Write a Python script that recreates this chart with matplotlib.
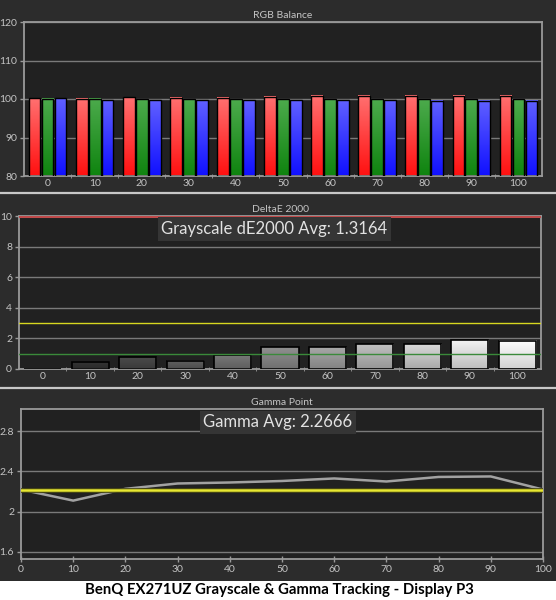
import numpy as np
import matplotlib
matplotlib.use("Agg")
from matplotlib import pyplot as plt
from matplotlib.lines import Line2D
from matplotlib.patches import Rectangle

plt.rcParams['font.family'] = ['Lato', 'DejaVu Sans']

# data
levels = [0, 10, 20, 30, 40, 50, 60, 70, 80, 90, 100]
red   = [100.2, 100.1, 100.4, 100.35, 100.3, 100.6, 100.8, 100.8, 100.8, 100.8, 100.8]
green = [100.1, 100.1, 99.9, 99.9, 99.9, 99.9, 99.9, 99.9, 99.9, 99.9, 99.9]
blue  = [100.2, 99.7, 99.7, 99.7, 99.7, 99.7, 99.7, 99.7, 99.5, 99.5, 99.5]
de2000 = [0.0, 0.46, 0.76, 0.54, 0.89, 1.41, 1.41, 1.61, 1.61, 1.89, 1.85]
gamma  = [2.22, 2.11, 2.227, 2.28, 2.29, 2.305, 2.33, 2.30, 2.345, 2.35, 2.22]
gamma_target = 2.22
de_avg = "1.3164"
gamma_avg = "2.2666"
caption = "BenQ EX271UZ Grayscale & Gamma Tracking - Display P3"

FIG_BG = "#2c2c2c"
AX_BG = "#212121"
GRID = "#7a7a7a"
SPINE = "#9a9a9a"
TXT = "#c4c4c4"


def style_ax(ax):
    ax.set_facecolor(AX_BG)
    for s in ax.spines.values():
        s.set_color(SPINE)
        s.set_linewidth(1.3)
    ax.tick_params(colors=SPINE, labelcolor=TXT, labelsize=7.5, length=3,
                   width=1, direction='out', pad=2)


def grad_bars(ax, bars, tops, bots):
    n = 64
    g = np.linspace(0, 1, n)[:, None, None]
    for b, t, bo in zip(bars, tops, bots):
        t = np.array(matplotlib.colors.to_rgb(t))
        bo = np.array(matplotlib.colors.to_rgb(bo))
        img = t * (1 - g) + bo * g
        x0, y0 = b.get_x(), b.get_y()
        ax.imshow(img, extent=[x0, x0 + b.get_width(), y0, y0 + b.get_height()],
                  aspect='auto', origin='upper', zorder=2.5, interpolation='bilinear')


fig = plt.figure(figsize=(5.56, 6.0), dpi=100, facecolor=FIG_BG)
W, H = 556.0, 600.0


def box(l, r, t, b):
    return [l / W, 1 - b / H, (r - l) / W, (b - t) / H]


x = np.arange(len(levels))

# ---- RGB balance
ax1 = fig.add_axes(box(24, 542, 22, 176))
style_ax(ax1)
ax1.set_ylim(80, 120)
ax1.set_xlim(-0.5, len(levels) - 0.5)
ax1.set_yticks([80, 90, 100, 110, 120])
ax1.grid(axis='y', color=GRID, lw=1, zorder=0)
bw = 0.25
off = 0.275
specs = [(red, -off, "#ff7070", "#ff1010"),
         (green, 0, "#4caa4c", "#0f840f"),
         (blue, off, "#6060ff", "#1010ff")]
for vals, dx, ctop, cbot in specs:
    bars = ax1.bar(x + dx, np.array(vals) - 80, bottom=80, width=bw,
                   facecolor='none', edgecolor='black', lw=1, zorder=3)
    grad_bars(ax1, bars, [ctop] * len(vals), [cbot] * len(vals))
ax1.set_xlim(-0.5, len(levels) - 0.5)
ax1.set_ylim(80, 120)
ax1.set_xticks(x)
ax1.set_xticklabels([str(v) for v in levels])
ax1.set_xticks(x[:-1] + 0.5, minor=True)
ax1.tick_params(axis='x', which='major', length=0)
ax1.tick_params(axis='x', which='minor', colors=SPINE, length=3, direction='inout')
ax1.set_title("RGB Balance", color=TXT, fontsize=7.5, pad=3)

# ---- DeltaE 2000
ax2 = fig.add_axes(box(19, 541, 216, 369))
style_ax(ax2)
ax2.set_ylim(0, 10)
ax2.set_yticks([0, 2, 4, 6, 8, 10])
ax2.grid(axis='y', color=GRID, lw=1, zorder=0)
bars = ax2.bar(x, de2000, width=0.78, facecolor='none', edgecolor='black',
               lw=1.2, zorder=3)
tops, bots = [], []
for lv in levels:
    v = 0.13 + 0.87 * (lv / 100.0) ** 1.1
    tops.append((min(v * 1.05, 1),) * 3)
    bots.append((v * 0.82,) * 3)
grad_bars(ax2, bars, tops, bots)
ax2.axhline(10, color="#c04a4a", lw=2.2, zorder=4)
ax2.axhline(3, color="#d8d820", lw=1, zorder=4)
ax2.axhline(1, color="#3a8a3a", lw=1, zorder=4)
ax2.set_xlim(-0.5, len(levels) - 0.5)
ax2.set_ylim(0, 10)
ax2.set_xticks(x)
ax2.set_xticklabels([str(v) for v in levels])
ax2.set_xticks(x[:-1] + 0.5, minor=True)
ax2.tick_params(axis='x', which='major', length=0)
ax2.tick_params(axis='x', which='minor', colors=SPINE, length=3, direction='inout')
ax2.set_title("DeltaE 2000", color=TXT, fontsize=7.5, pad=3)
ax2.text(0.489, 0.915, "Grayscale dE2000 Avg: " + de_avg, transform=ax2.transAxes,
         ha='center', va='center', fontsize=12, color="#e2e2e2", zorder=6,
         bbox=dict(boxstyle='square,pad=0.22', fc="#353535", ec='none'))

# ---- Gamma point
ax3 = fig.add_axes(box(21, 543, 409, 559))
style_ax(ax3)
ax3.set_xlim(0, 100)
ax3.set_ylim(1.53, 3.02)
ax3.set_yticks([1.6, 2.0, 2.4, 2.8])
ax3.set_yticklabels(["1.6", "2", "2.4", "2.8"])
ax3.set_xticks(levels)
ax3.tick_params(axis='x', direction='inout', length=4)
ax3.grid(axis='y', color=GRID, lw=1, zorder=0)
ax3.plot(levels, gamma, color="#a2a2a2", lw=1.8, zorder=3)
ax3.axhline(gamma_target, color="#4a4a12", lw=3.4, zorder=4)
ax3.axhline(gamma_target, color="#e8e832", lw=1.8, zorder=5)
ax3.set_title("Gamma Point", color=TXT, fontsize=7.5, pad=3)
ax3.text(0.492, 0.91, "Gamma Avg: " + gamma_avg, transform=ax3.transAxes,
         ha='center', va='center', fontsize=12, color="#e2e2e2", zorder=6,
         bbox=dict(boxstyle='square,pad=0.22', fc="#353535", ec='none'))

# panel dividers and caption strip
for yy in (193, 388):
    fig.add_artist(Line2D([0, 1], [1 - yy / H, 1 - yy / H], color="#c8c8c8", lw=1.6))
fig.add_artist(Rectangle((0, 0), 1, 19 / H, transform=fig.transFigure,
                         facecolor='white', edgecolor='none'))
fig.text(279 / W, 1 - 590 / H, caption, ha='center', va='center',
         fontsize=10.7, fontweight='bold', color='black')

fig.savefig("out.png", dpi=100, facecolor=FIG_BG)
